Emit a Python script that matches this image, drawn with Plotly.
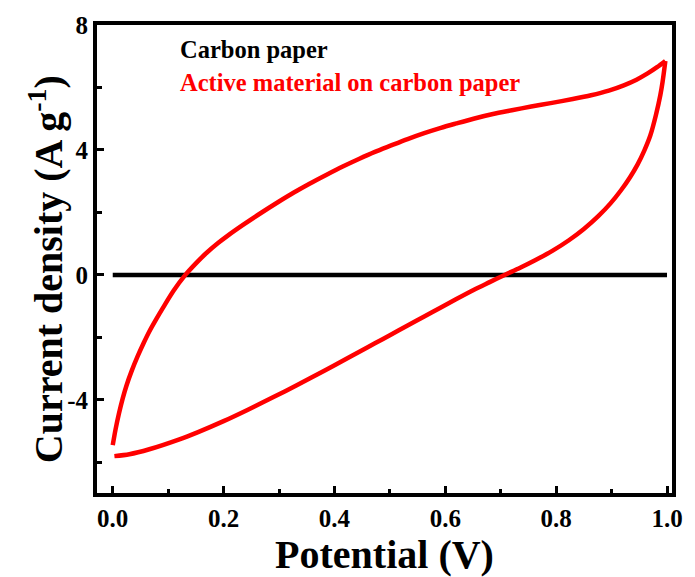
import plotly.graph_objects as go

# Cyclic voltammetry data: potential (V) vs current density (A/g)
# Anodic sweep, 0 -> 1.0 V
fwd_potential = [0.000, 0.005, 0.011, 0.018, 0.025, 0.034, 0.045, 0.056, 0.066, 0.078,
                 0.090, 0.110, 0.131, 0.150, 0.167, 0.190, 0.207, 0.235, 0.268, 0.300,
                 0.326, 0.355, 0.385, 0.415, 0.445, 0.473, 0.500, 0.532, 0.562, 0.592,
                 0.620, 0.651, 0.686, 0.720, 0.755, 0.790, 0.830, 0.863, 0.895, 0.922,
                 0.945, 0.965, 0.982, 0.997]
fwd_current = [-5.45, -4.95, -4.45, -3.95, -3.53, -3.08, -2.60, -2.17, -1.81, -1.43,
               -1.07, -0.50, 0.00, 0.37, 0.67, 1.02, 1.25, 1.60, 1.99, 2.35,
               2.63, 2.92, 3.20, 3.47, 3.72, 3.94, 4.13, 4.35, 4.54, 4.71,
               4.85, 5.00, 5.15, 5.27, 5.39, 5.50, 5.63, 5.75, 5.90, 6.07,
               6.25, 6.45, 6.65, 6.85]

# Cathodic sweep, 1.0 -> 0 V
rev_potential = [0.997, 0.992, 0.988, 0.980, 0.970, 0.959, 0.947, 0.933, 0.917, 0.898,
                 0.876, 0.850, 0.823, 0.793, 0.762, 0.735, 0.707, 0.680, 0.651, 0.620,
                 0.592, 0.562, 0.532, 0.500, 0.473, 0.445, 0.420, 0.380, 0.332, 0.290,
                 0.243, 0.200, 0.154, 0.119, 0.066, 0.030, 0.003]
rev_current = [6.85, 6.18, 5.76, 5.12, 4.47, 3.98, 3.54, 3.12, 2.71, 2.29,
               1.88, 1.47, 1.11, 0.77, 0.47, 0.23, 0.00, -0.23, -0.48, -0.77,
               -1.04, -1.33, -1.62, -1.93, -2.19, -2.46, -2.70, -3.08, -3.53, -3.91,
               -4.32, -4.68, -5.03, -5.27, -5.58, -5.74, -5.80]

# Bare carbon paper: negligible current over the window
cp_potential = [0.0, 0.25, 0.5, 0.75, 1.0]
cp_current = [0.0, 0.0, 0.0, 0.0, 0.0]

x_ticks = [0.0, 0.2, 0.4, 0.6, 0.8, 1.0]
x_ticklabels = ["0.0", "0.2", "0.4", "0.6", "0.8", "1.0"]
y_ticks = [-4, 0, 4, 8]
y_ticklabels = ["-4", "0", "4", "8"]

FONT = "Liberation Serif, Times New Roman, serif"
W, H = 695, 577
ML, MR, MT, MB = 97, 13, 25, 77

fig = go.Figure()
fig.add_trace(go.Scatter(x=cp_potential, y=cp_current, mode="lines",
                         line=dict(color="black", width=4.5), showlegend=False))
# each sweep drawn separately so the vertex at 1.0 V stays sharp
for xs, ys in ((fwd_potential, fwd_current), (rev_potential, rev_current)):
    fig.add_trace(go.Scatter(x=xs, y=ys, mode="lines",
                             line=dict(color="#ff0000", width=4.5, shape="spline",
                                       smoothing=0.8),
                             showlegend=False))

axis_common = dict(
    showline=True, linecolor="black", linewidth=4, mirror=True,
    showgrid=False, zeroline=False, ticks="inside", tickcolor="black",
    tickwidth=3, ticklen=7,
    tickfont=dict(family=FONT, size=25, color="black", weight="bold"),
)

fig.update_xaxes(**axis_common, range=[-0.0284, 1.009], tickvals=x_ticks,
                 ticktext=x_ticklabels,
                 minor=dict(tickvals=[0.1, 0.3, 0.5, 0.7, 0.9], ticks="inside",
                            ticklen=4, tickwidth=3, tickcolor="black"),
                 title=dict(text="Potential (V)", standoff=5,
                            font=dict(family=FONT, size=40, color="black", weight="bold")))
fig.update_yaxes(**axis_common, range=[-6.98, 8], tickvals=y_ticks,
                 ticktext=y_ticklabels,
                 minor=dict(tickvals=[-6, -2, 2, 6], ticks="inside",
                            ticklen=5, tickwidth=3, tickcolor="black"))

# Rotated y-axis title
fig.add_annotation(text="Current density (A g<sup>-1</sup>)", textangle=-90,
                   xref="paper", yref="paper", x=(45 - ML) / (W - ML - MR),
                   y=(H - MB - 273) / (H - MT - MB), xanchor="center", yanchor="middle",
                   showarrow=False,
                   font=dict(family=FONT, size=40, color="black", weight="bold"))

# Text legend
fig.add_annotation(text="Carbon paper", xref="paper", yref="paper",
                   x=(179 - ML) / (W - ML - MR), y=(H - MB - 50) / (H - MT - MB),
                   xanchor="left", yanchor="middle", showarrow=False,
                   font=dict(family=FONT, size=24.5, color="black", weight="bold"))
fig.add_annotation(text="Active material on carbon paper", xref="paper", yref="paper",
                   x=(179 - ML) / (W - ML - MR), y=(H - MB - 83) / (H - MT - MB),
                   xanchor="left", yanchor="middle", showarrow=False,
                   font=dict(family=FONT, size=24.5, color="#ff0000", weight="bold"))

fig.update_layout(width=W, height=H, margin=dict(l=ML, r=MR, t=MT, b=MB),
                  plot_bgcolor="white", paper_bgcolor="white")

fig.write_html("out.html")
